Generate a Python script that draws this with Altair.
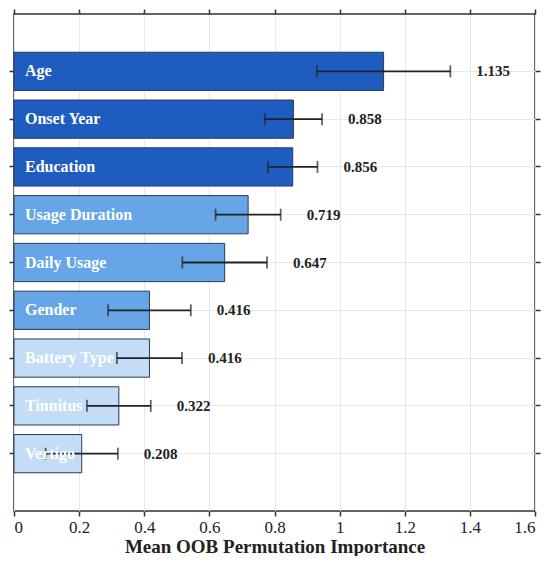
import altair as alt
import pandas as pd

features = ["Age", "Onset Year", "Education", "Usage Duration", "Daily Usage",
            "Gender", "Battery Type", "Tinnitus", "Vertigo"]
importance = [1.135, 0.858, 0.856, 0.719, 0.647, 0.416, 0.416, 0.322, 0.208]
error = [0.205, 0.088, 0.076, 0.100, 0.130, 0.127, 0.100, 0.098, 0.111]
tier = ["high", "high", "high", "mid", "mid", "mid", "low", "low", "low"]
value_labels = ["1.135", "0.858", "0.856", "0.719", "0.647", "0.416", "0.416", "0.322", "0.208"]
x_ticks = [0, 0.2, 0.4, 0.6, 0.8, 1.0, 1.2, 1.4, 1.6]

df = pd.DataFrame({
    "feature": features,
    "importance": importance,
    "err": error,
    "tier": tier,
    "label": value_labels,
})

FONT = "Liberation Serif"
x_scale = alt.Scale(domain=[0, 1.6], nice=False, zero=True)
y_scale = alt.Scale(domain=features, paddingInner=0.2, paddingOuter=0.8)

base = alt.Chart(df).transform_calculate(
    lo="datum.importance - datum.err",
    hi="datum.importance + datum.err",
    zero="0",
)

bars = base.mark_bar(stroke="#2d3b52", strokeWidth=1).encode(
    x=alt.X("importance:Q", scale=x_scale,
            axis=alt.Axis(values=x_ticks, format="~g", title="Mean OOB Permutation Importance",
                          orient="bottom", grid=True, gridColor="#e8e8e8", gridWidth=1,
                          domain=False, ticks=True, tickSize=5, tickColor="#333333", tickWidth=1.5,
                          labelFont=FONT, labelFontSize=17, labelColor="#222222", labelPadding=3,
                          titleFont=FONT, titleFontSize=19, titleFontWeight="bold",
                          titleColor="#222222", titlePadding=2)),
    y=alt.Y("feature:N", scale=y_scale, sort=features,
            axis=alt.Axis(title=None, labels=False, orient="left", grid=True, gridColor="#e8e8e8",
                          bandPosition=0.5, domain=False, ticks=True, tickSize=5,
                          tickColor="#333333", tickWidth=1.5)),
    color=alt.Color("tier:N", scale=alt.Scale(domain=["high", "mid", "low"],
                                              range=["#1f5cbf", "#66a6e6", "#c2ddf5"]),
                    legend=None),
)

rules = base.mark_rule(color="#222222", strokeWidth=1.8).encode(
    x=alt.X("lo:Q", scale=x_scale, axis=None),
    x2="hi:Q",
    y=alt.Y("feature:N", scale=y_scale, sort=features, axis=None),
)

caps_lo = base.mark_tick(color="#222222", thickness=1.8, size=12).encode(
    x=alt.X("lo:Q", scale=x_scale, axis=None),
    y=alt.Y("feature:N", scale=y_scale, sort=features, axis=None),
)
caps_hi = base.mark_tick(color="#222222", thickness=1.8, size=12).encode(
    x=alt.X("hi:Q", scale=x_scale, axis=None),
    y=alt.Y("feature:N", scale=y_scale, sort=features, axis=None),
)

names = base.mark_text(align="left", baseline="middle", dx=11, font=FONT, fontSize=16,
                       fontWeight="bold", color="white").encode(
    x=alt.X("zero:Q", scale=x_scale, axis=None),
    y=alt.Y("feature:N", scale=y_scale, sort=features, axis=None),
    text="feature:N",
)

values = base.mark_text(align="left", baseline="middle", dx=26, font=FONT, fontSize=15,
                        fontWeight="bold", color="#222222").encode(
    x=alt.X("hi:Q", scale=x_scale,
            axis=alt.Axis(values=x_ticks, orient="top", labels=False, title=None, grid=False,
                          domain=False, ticks=True, tickSize=5, tickColor="#333333", tickWidth=1.5)),
    y=alt.Y("feature:N", scale=y_scale, sort=features,
            axis=alt.Axis(orient="right", labels=False, title=None, grid=False, bandPosition=0.5,
                          domain=False, ticks=True, tickSize=5, tickColor="#333333", tickWidth=1.5)),
    text="label:N",
)

chart = alt.layer(bars, rules, caps_lo, caps_hi, names, values).resolve_axis(
    x="independent", y="independent"
).properties(
    width=521, height=497,
    padding={"left": 0, "top": 0, "right": 0, "bottom": 0},
).configure_view(stroke="#333333", strokeWidth=1.5)

chart.save("out.html", embed_options={"renderer": "svg", "actions": False})
